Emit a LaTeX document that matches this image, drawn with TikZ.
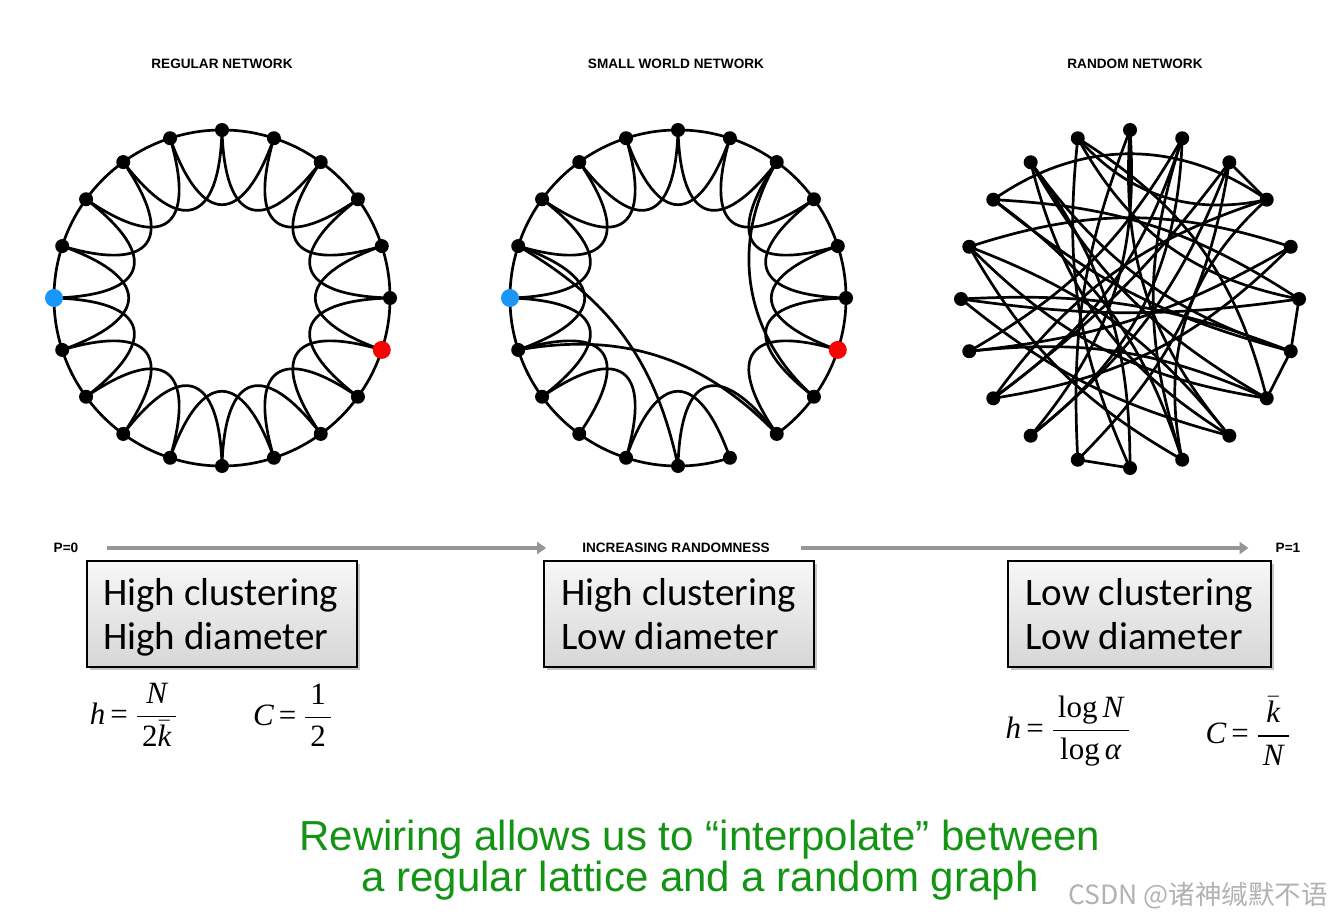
\documentclass[tikz,border=0pt]{standalone}
\usepackage{amsmath}
\usepackage{fontspec}
\usepackage{graphicx}
\usetikzlibrary{shadows,arrows.meta}
\newfontfamily\labf{Liberation Sans}
\newfontfamily\boxf{Carlito}
\newfontfamily\tms{Liberation Serif}
\newfontfamily\cjkf{Noto Sans CJK SC}
\definecolor{nodeblue}{RGB}{25,150,250}
\definecolor{nodered}{RGB}{250,0,0}
\definecolor{textgreen}{RGB}{20,148,20}
\definecolor{arrowgray}{RGB}{150,150,150}
\definecolor{wmgray}{RGB}{178,178,178}
\newcommand{\ti}[1]{\text{\tms\itshape #1}}
\newcommand{\tr}[1]{\text{\tms #1}}
\newcommand{\pd}[1]{\mkern3mu#1\mkern3mu}
\pgfdeclarelayer{background}
\pgfsetlayers{background,main}
\begin{document}
\begin{tikzpicture}[x=1pt,y=-1pt,
  vtx/.style={circle,fill=black,inner sep=0pt,minimum size=14pt},
  bvtx/.style={circle,fill=nodeblue,inner sep=0pt,minimum size=18pt},
  rvtx/.style={circle,fill=nodered,inner sep=0pt,minimum size=18pt},
  edge/.style={line width=2.7pt,black},
  ttl/.style={font=\labf\bfseries\fontsize{13.6}{15}\selectfont,inner sep=0pt},
  garrow/.style={line width=4pt,arrowgray,-{Triangle[length=9pt,width=12pt]}},
  infobox/.style={draw=black,line width=1.2pt,top color=gray!6,bottom color=gray!32,
    drop shadow={shadow xshift=3pt,shadow yshift=-3pt,opacity=0.45},
    minimum height=106pt,inner sep=0pt},
  boxtext/.style={font=\boxf\fontsize{39}{44}\selectfont,anchor=base west,inner sep=0pt},
  formula/.style={inner sep=0pt},
  green/.style={font=\labf\fontsize{42}{42}\selectfont,text=textgreen,anchor=base,inner sep=0pt}
]
\useasboundingbox (0,0) rectangle (1341,917);

% ---------- Regular network ----------
\begin{scope}[shift={(222,298)}]
  \foreach \k in {0,...,19}{
    \ifnum\k=10 \def\st{bvtx}\else\ifnum\k=19 \def\st{rvtx}\else\def\st{vtx}\fi\fi
    \node[\st] (na\k) at ({-18*\k}:168) {};
  }
  \begin{pgfonlayer}{background}
  \foreach \k in {0,...,19}{
    \pgfmathtruncatemacro\j{mod(\k+1,20)}
    \pgfmathtruncatemacro\jj{mod(\k+2,20)}
    \pgfmathsetmacro\b{-18*\k}
    \draw[edge] (na\k.center) .. controls (\b-6:169) and (\b-12:169) .. (na\j.center);
    \draw[edge] (na\k.center) .. controls (\b-2:74) and (\b-34:74) .. (na\jj.center);
  }
  \end{pgfonlayer}
\end{scope}

% ---------- Small world network ----------
\begin{scope}[shift={(678,298)}]
  \foreach \k in {0,...,19}{
    \ifnum\k=10 \def\st{bvtx}\else\ifnum\k=19 \def\st{rvtx}\else\def\st{vtx}\fi\fi
    \node[\st] (nb\k) at ({-18*\k}:168) {};
  }
  \begin{pgfonlayer}{background}
  \foreach \k in {0,...,19}{
    \pgfmathtruncatemacro\j{mod(\k+1,20)}
    \pgfmathtruncatemacro\jj{mod(\k+2,20)}
    \pgfmathsetmacro\b{-18*\k}
    \ifnum\k=16 \else
      \draw[edge] (nb\k.center) .. controls (\b-6:169) and (\b-12:169) .. (nb\j.center);
    \fi
    \ifnum\k=13 \else\ifnum\k=16 \else
      \draw[edge] (nb\k.center) .. controls (\b-2:74) and (\b-34:74) .. (nb\jj.center);
    \fi\fi
  }
  \draw[edge] (nb9.center) to[bend left=24] (nb15.center);
  \draw[edge] (nb11.center) to[bend left=28] (nb17.center);
  \draw[edge] (nb3.center) to[bend right=40] (nb18.center);
  \end{pgfonlayer}
\end{scope}

% ---------- Random network ----------
\begin{scope}[shift={(1130,299)}]
  \foreach \k in {0,...,19}{
    \node[vtx] (nc\k) at ({-18*\k}:169) {};
  }
  \begin{pgfonlayer}{background}
  \foreach \a/\b/\bd in {2/3/0,0/19/0,19/18/0,14/15/0,
     5/13/22,5/17/-22,4/12/18,4/13/25,4/11/15,4/16/-18,3/12/8,3/14/18,
     2/8/-35,2/16/-30,2/6/30,1/11/12,1/9/-18,1/12/18,0/10/8,0/8/-15,0/6/25,
     19/8/12,19/7/18,19/10/-12,18/7/15,18/6/-22,17/7/22,17/9/-15,16/8/-18,16/9/15,
     15/6/15,15/7/-18,14/5/12,13/3/-15,12/2/18,11/18/15,10/17/-12,9/18/-18}{
    \draw[edge] (nc\a.center) to[bend left=\bd] (nc\b.center);
  }
  \end{pgfonlayer}
\end{scope}

% ---------- Titles ----------
\node[ttl] (t1) at (222,64) {REGULAR NETWORK};
\node[ttl] (t2) at (676,64) {SMALL WORLD NETWORK};
\node[ttl] (t3) at (1135,64) {RANDOM NETWORK};

% ---------- Randomness axis ----------
\node[ttl] (p0) at (66,548) {P=0};
\node[ttl] (inc) at (676,548) {INCREASING RANDOMNESS};
\node[ttl] (p1) at (1288,548) {P=1};
\draw[garrow,shorten <=29pt,shorten >=36pt] (p0.east) -- (inc.west);
\draw[garrow,shorten <=31pt,shorten >=27pt] (inc.east) -- (p1.west);

% ---------- Boxes ----------
\node[infobox,minimum width=270pt] (b1) at (222,614) {};
\node[infobox,minimum width=270pt] (b2) at (679,614) {};
\node[infobox,minimum width=263pt] (b3) at (1139.5,614) {};
\node[boxtext] (b1a) at (103,605) {High clustering};
\node[boxtext] (b1b) at (103,649) {High diameter};
\node[boxtext] (b2a) at (561,605) {High clustering};
\node[boxtext] (b2b) at (561,649) {Low diameter};
\node[boxtext] (b3a) at (1025,605) {Low clustering};
\node[boxtext] (b3b) at (1025,649) {Low diameter};

% ---------- Formulas ----------
\node[formula] (f1) at (135,715) {\scalebox{3.1}{$\ti{h}\,\tr{=}\,\dfrac{\pd{\ti{N}}}{\pd{\tr{2}\bar{\ti{k}}}}$}};
\node[formula] (f2) at (294,715) {\scalebox{3.1}{$\ti{C}\,\tr{=}\,\dfrac{\pd{\tr{1}}}{\pd{\tr{2}}}$}};
\node[formula] (f3) at (1069,731) {\scalebox{3.1}{$\ti{h}\,\tr{=}\,\dfrac{\pd{\tr{log}\,\ti{N}}}{\pd{\tr{log}\,\ti{α}}}$}};
\node[formula] (f4) at (1249,731) {\scalebox{3.1}{$\ti{C}\,\tr{=}\,\dfrac{\pd{\bar{\ti{k}}}}{\pd{\ti{N}}}$}};

% ---------- Conclusion ----------
\node[green] (g1) at (700,850) {Rewiring allows us to “interpolate” between};
\node[green] (g2) at (700,891) {a regular lattice and a random graph};

% ---------- Watermark ----------
\node[anchor=base west,inner sep=0pt,text=wmgray,font=\cjkf\fontsize{26.5}{28}\selectfont] (wm) at (1068,904) {CSDN @诸神缄默不语};
\end{tikzpicture}
\end{document}
